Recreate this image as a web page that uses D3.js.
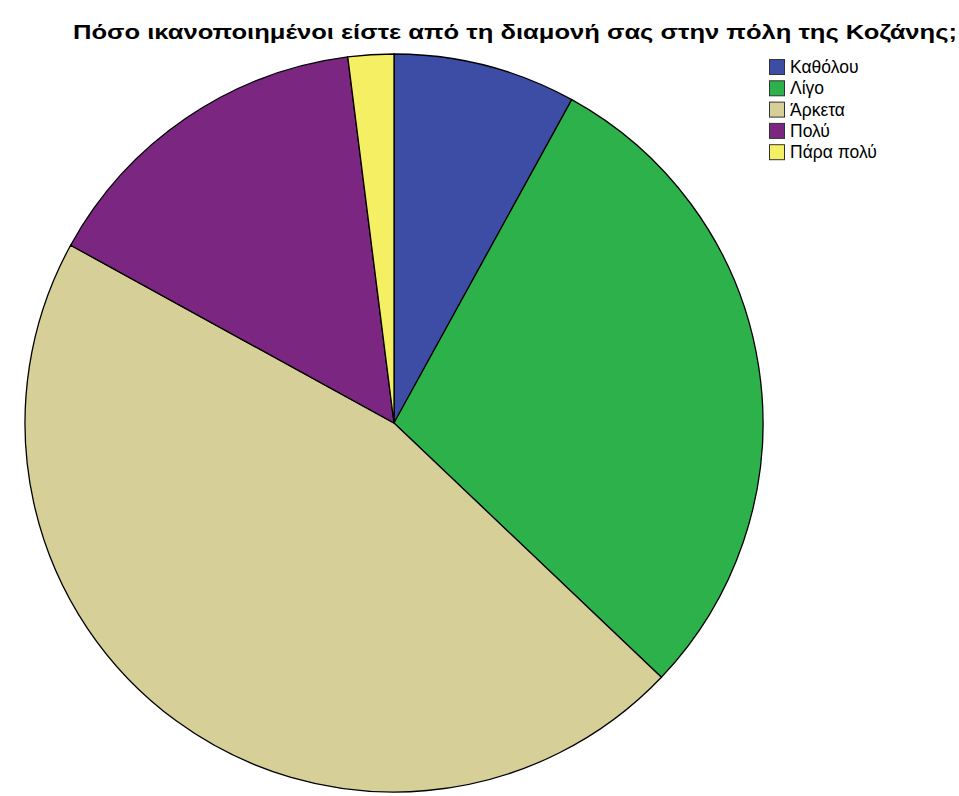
<!DOCTYPE html>
<html><head><meta charset="utf-8">
<script src="https://cdn.jsdelivr.net/npm/d3@7/dist/d3.min.js"></script>
<style>body{margin:0;background:#fff}</style></head>
<body><svg id="c" width="959" height="796"></svg>
<script>
const categories = ["Καθόλου","Λίγο","Άρκετα","Πολύ","Πάρα πολύ"];
const values = [8.0, 29.1, 45.9, 15.0, 2.0];
const colors = ["#3d4da6","#2db24b","#d6cf97","#7b2680","#f5f063"];
const title = "Πόσο ικανοποιημένοι είστε από τη διαμονή σας στην πόλη της Κοζάνης;";

const svg = d3.select("#c");
svg.append("text").attr("x", 73).attr("y", 39).attr("text-anchor","start")
  .attr("font-family","Liberation Sans, Arial, sans-serif").attr("font-weight","bold")
  .attr("font-size", 21).attr("fill","#000")
  .attr("textLength", 884).attr("lengthAdjust","spacingAndGlyphs").text(title);

const cx = 394, cy = 423, r = 369;
const pie = d3.pie().sort(null).value(d => d)(values);
const arc = d3.arc().innerRadius(0).outerRadius(r);
const g = svg.append("g").attr("transform", `translate(${cx},${cy})`);
g.selectAll("path").data(pie).join("path")
  .attr("d", arc).attr("fill", (d,i) => colors[i])
  .attr("stroke","#000").attr("stroke-width",1.3);

const lg = svg.append("g").attr("transform","translate(769,59)");
categories.forEach((c,i) => {
  const row = lg.append("g").attr("transform", `translate(0,${i*21.3})`);
  row.append("rect").attr("x",0.5).attr("y",0.5).attr("width",15).attr("height",15)
    .attr("fill",colors[i]).attr("stroke","#333").attr("stroke-width",1);
  row.append("text").attr("x",21).attr("y",14)
    .attr("font-family","Liberation Sans, Arial, sans-serif").attr("font-size",17.5)
    .attr("fill","#000").text(c);
});
</script></body></html>
